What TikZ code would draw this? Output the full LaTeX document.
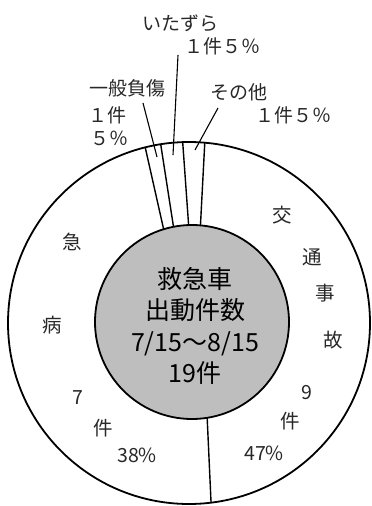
\documentclass[tikz,border=0pt]{standalone}
\usepackage{fontspec}
\newfontfamily\jp{Noto Sans CJK JP}
\definecolor{disc}{RGB}{190,190,190}
\definecolor{ink}{RGB}{40,40,40}
\begin{document}
\begin{tikzpicture}[x=1pt,y=-1pt,
  ring/.style={circle,draw,line width=1.8pt,inner sep=0pt,outer sep=0pt},
  divider/.style={line width=1.4pt},
  leader/.style={line width=1.1pt},
  lbl/.style={font=\jp\fontsize{19.5}{22}\selectfont,inner sep=0pt,text=ink},
  toplbl/.style={font=\jp\fontsize{19}{22}\selectfont,inner sep=0pt,text=ink},
  title/.style={font=\jp\fontsize{25}{31.5}\selectfont,align=center,inner sep=0pt,text=black}]
\useasboundingbox (0,0) rectangle (372,506);
\fill[white] (0,0) rectangle (372,506);
% rings
\node[ring,minimum size=362pt] (outer) at (189,323) {};
\node[ring,minimum size=194pt,fill=disc] (inner) at (192,322) {};
\node[title] (ttl) at (195,326) {救急車\\出動件数\\7/15〜8/15\\19件};
% dividers
\draw[divider] (inner.107.5) -- (outer.104.9);
\draw[divider] (inner.101.3) -- (outer.99.4);
\draw[divider] (inner.92.4) -- (outer.92.9);
\draw[divider] (inner.85.3) -- (outer.85.2);
\draw[divider] (inner.279) -- (outer.277.6);
% top labels
\node[toplbl] (itz) at (180,23) {いたずら};
\node[toplbl] (itzn) at (222,46) {１件５％};
\node[toplbl] (ipf) at (127,88) {一般負傷};
\node[toplbl,anchor=west] (ipfa) at (88,115) {１件};
\node[toplbl,anchor=west] (ipfb) at (90,138) {５％};
\node[toplbl] (sot) at (239,92) {その他};
\node[toplbl] (sotn) at (293,115) {１件５％};
% leaders
\coordinate (l1a) at (178,55);
\coordinate (l1b) at (173,155);
\coordinate (l2a) at (143,103);
\coordinate (l2b) at (157,157);
\coordinate (l3a) at (218,108);
\coordinate (l3b) at (195,150);
\draw[leader] (l1a) -- (l1b);
\draw[leader] (l2a) -- (l2b);
\draw[leader] (l3a) -- (l3b);
% traffic labels
\node[lbl] (t1) at (282,215) {交};
\node[lbl] (t2) at (312,257) {通};
\node[lbl] (t3) at (325,293) {事};
\node[lbl] (t4) at (333,340) {故};
\node[lbl] (t5) at (307,393) {9};
\node[lbl] (t6) at (290,421) {件};
\node[lbl] (t7) at (264,453) {47\%};
% illness labels
\node[lbl] (s1) at (72,242) {急};
\node[lbl] (s2) at (52,325) {病};
\node[lbl] (s3) at (78,398) {7};
\node[lbl] (s4) at (103,428) {件};
\node[lbl] (s5) at (137,455) {38\%};
\end{tikzpicture}
\end{document}
